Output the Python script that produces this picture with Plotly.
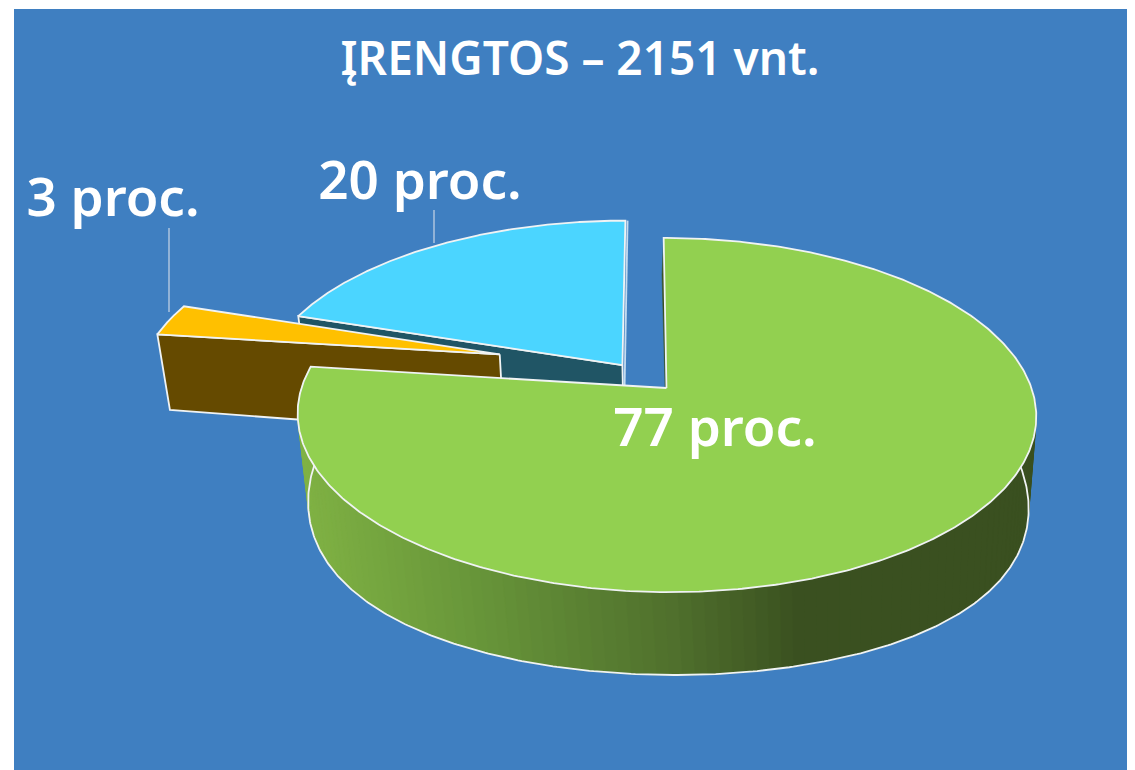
import numpy as np
import plotly.graph_objects as go

# ---- data ----
categories = ["A", "B", "C"]
percent_values = [77, 3, 20]
label_texts = ["77 proc.", "3 proc.", "20 proc."]
title_text = "ĮRENGTOS – 2151 vnt."

# ---- style ----
FONT = "Noto Sans"
BG = "#3F7FC1"
EDGE = "#F0F3F4"
top_colors = ["#92D050", "#FFC000", "#4BD5FF"]
cut_colors = ["#3A5120", "#654A00", "#205565"]
explode = [(0.004, 0.0), (-0.465, 0.20), (-0.118, 0.135)]

# projection of the tilted pie onto the page
CX, CY, RX, RY, K, SHEAR = 665, 388, 365, 173, 0.1525, -3
BCX, BCY, BRX, BRY, BSHEAR = 666, 475, 356, 200, -6


def proj(u, v, bottom=False):
    u, v = np.asarray(u, float), np.asarray(v, float)
    s = 1 / (1 + K * v)
    if bottom:
        return BCX + BRX * u * s + BSHEAR * v * s, BCY - BRY * v
    return CX + RX * u * s + SHEAR * v * s, CY - RY * v * s


def poly(x, y, fill, line=EDGE, width=1.8, name=""):
    return go.Scatter(
        x=list(x) + [x[0]], y=list(y) + [y[0]], mode="lines", fill="toself",
        fillcolor=fill, line=dict(color=line if line else fill, width=width),
        hoverinfo="skip", showlegend=False, name=name,
    )


ends = np.cumsum(percent_values) * 3.6
starts = np.concatenate([[0], ends[:-1]])


def arc(i, n=240):
    t = np.radians(np.linspace(starts[i], ends[i], n))
    return np.sin(t) + explode[i][0], np.cos(t) + explode[i][1]


def lerp(stops, x):
    xs = [p[0] for p in stops]
    return "rgb(%d,%d,%d)" % tuple(np.interp(x, xs, [p[1][c] for p in stops]) for c in range(3))


def cut_face(eu, ev, pu, pv):
    x1, y1 = proj([eu, pu], [ev, pv])
    x2, y2 = proj([pu, eu], [pv, ev], bottom=True)
    return list(x1) + list(x2), list(y1) + list(y2)


wall_stops = [(300, (128, 178, 68)), (470, (104, 150, 58)), (670, (80, 112, 45)),
              (800, (58, 80, 32)), (1040, (58, 80, 32))]

fig = go.Figure()

# 20 % slice (farthest back)
i = 2
eu, ev = explode[i]
au, av = arc(i)
fx, fy = cut_face(eu, ev, au[0], av[0])
fig.add_trace(poly(fx, fy, cut_colors[i]))
# pale second edge beside the 12 o'clock cut
nx, ny = proj([au[-1], eu], [av[-1], ev])
fig.add_trace(go.Scatter(x=nx + 2.2, y=[ny[0], ny[1] + 22], mode="lines",
                         line=dict(color="#C4DCF0", width=1.8),
                         hoverinfo="skip", showlegend=False))
x, y = proj(np.r_[eu, au], np.r_[ev, av])
fig.add_trace(poly(x, y, top_colors[i], name=categories[i]))

# 3 % slice
i = 1
eu, ev = explode[i]
au, av = arc(i)
fx, fy = cut_face(eu, ev, au[0], av[0])
fig.add_trace(poly(fx, fy, cut_colors[i]))
x, y = proj(np.r_[eu, au], np.r_[ev, av])
fig.add_trace(poly(x, y, top_colors[i], name=categories[i]))

# 77 % slice
i = 0
eu, ev = explode[i]
au, av = arc(i, 481)
# cut face at 12 o'clock
fx, fy = cut_face(eu, ev, au[0], av[0])
fig.add_trace(poly(fx, fy, cut_colors[i], line=cut_colors[i], width=0.5))
# outer wall, shaded in narrow strips
vis = np.where(av < 0.35)[0]
step = 3
for j in range(vis[0], vis[-1] - step + 1, step):
    k = min(j + step + 1, vis[-1])
    uu, vv = au[[j, k]], av[[j, k]]
    xt, yt = proj(uu, vv)
    xb, yb = proj(uu[::-1], vv[::-1], bottom=True)
    col = lerp(wall_stops, float(np.mean(xt)))
    fig.add_trace(poly(list(xt) + list(xb), list(yt) + list(yb), col, line=col, width=0.6))
xb, yb = proj(au[vis], av[vis], bottom=True)
fig.add_trace(go.Scatter(x=xb, y=yb, mode="lines", line=dict(color=EDGE, width=1.8),
                         hoverinfo="skip", showlegend=False))
x, y = proj(np.r_[eu, au], np.r_[ev, av])
fig.add_trace(poly(x, y, top_colors[i], name=categories[i]))

# leader lines
for lx, ly in [([169, 169], [228, 312]), ([434, 434], [210, 243])]:
    fig.add_trace(go.Scatter(x=lx, y=ly, mode="lines", line=dict(color="#C9D6E6", width=1.2),
                             hoverinfo="skip", showlegend=False))

# text
fig.add_trace(go.Scatter(
    x=[715, 113, 420], y=[433, 203, 186], mode="text", text=label_texts,
    textposition="middle center",
    textfont=dict(family=FONT, size=53, color="white", weight=600),
    hoverinfo="skip", showlegend=False))
fig.add_trace(go.Scatter(
    x=[580], y=[63], mode="text", text=[title_text], textposition="middle center",
    textfont=dict(family=FONT, size=46, color="white", weight=600),
    hoverinfo="skip", showlegend=False))

# the page adds an 8 px body margin, so the figure is sized and offset to allow for it
fig.update_layout(
    width=1127, height=762, autosize=False,
    margin=dict(l=6, r=0, t=1, b=0, pad=0),
    paper_bgcolor="white", plot_bgcolor=BG,
    xaxis=dict(range=[14, 1135], visible=False, fixedrange=True),
    yaxis=dict(range=[770, 9], visible=False, fixedrange=True),
    showlegend=False,
)
fig.write_html("out.html")
